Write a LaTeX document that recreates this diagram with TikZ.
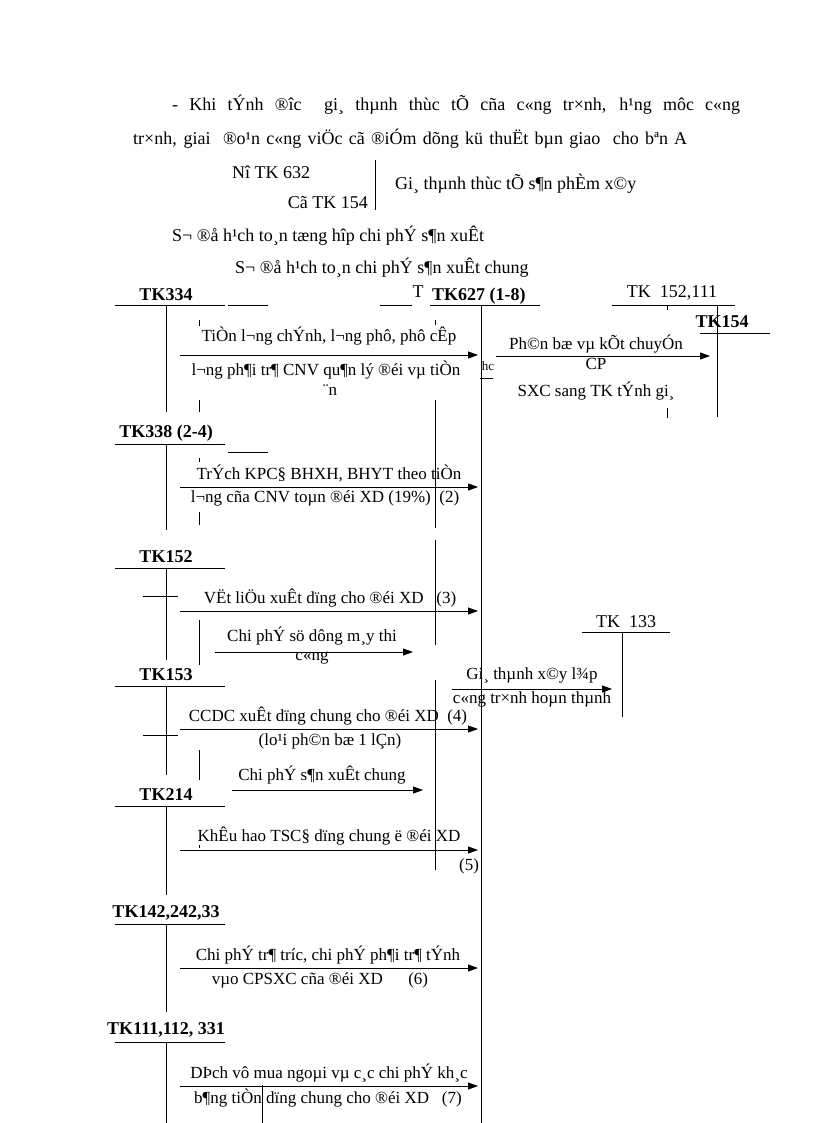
\documentclass[tikz,border=0pt]{standalone}
\usepackage{fontspec}
\setmainfont{Liberation Serif}
\usetikzlibrary{arrows.meta}
\begin{document}
\begin{tikzpicture}[x=1pt,y=-1pt,
  t/.style={inner sep=0pt,font=\fontsize{18}{20}\selectfont},
  tl/.style={inner sep=0pt,font=\fontsize{17}{19}\selectfont},
  tk/.style={inner sep=0pt,font=\fontsize{18}{20}\selectfont\bfseries},
  ln/.style={line width=0.8pt},
  ar/.style={line width=0.8pt,-{Triangle[length=10pt,width=7pt]}}]
\useasboundingbox (0,0) rectangle (816,1123);
% header text
\node[t,anchor=west] (h1) at (172,105) {\makebox[568pt][s]{- Khi tÝnh ®îc\ \ gi¸ thµnh thùc tÕ cña c«ng tr×nh, h¹ng môc c«ng}};
\node[t,anchor=west] (h2) at (133,139) {\makebox[554pt][s]{tr×nh, giai\ \ ®o¹n c«ng viÖc cã ®iÓm dõng kü thuËt bµn giao\ \ cho bªn A}};
\node[t,anchor=west] (no) at (232,172) {Nî TK 632};
\node[t,anchor=east] (co) at (368,203) {Cã TK 154};
\draw[ln] (375,160) -- (375,210);
\node[t,anchor=west] (gt) at (395,184) {Gi¸ thµnh thùc tÕ s¶n phÈm x©y};
\node[t,anchor=west] (s1) at (172,236) {S¬ ®å h¹ch to¸n tæng hîp chi phÝ s¶n xuÊt};
\node[t,anchor=west] (s2) at (235,268) {S¬ ®å h¹ch to¸n chi phÝ s¶n xuÊt chung};
% left T accounts
\foreach \n/\lab/\ly/\a/\b in {a/TK334/295/305/412, b/TK338 (2-4)/433/444/530, c/TK152/557/568/660, d/TK153/675/686/775, e/TK214/795/806/895, f/TK142{,}242{,}33/913/924/1012, g/TK111{,}112{,} 331/1030/1042/1123}{
  \node[tk] (L\n) at (166,\ly) {\lab};
  \draw[ln] (115,\a) -- (225,\a);
  \draw[ln] (166,\a) -- (166,\b);
}
\draw[ln] (228,305) -- (268,305);
\draw[ln] (228,452) -- (268,452);
\draw[ln] (380,305) -- (412,305);
\node[t] (tT) at (418,292) {T};
\draw[ln] (143,596) -- (178,596);
\draw[ln] (143,735) -- (178,735);
% TK627
\node[tk,anchor=west] (k627) at (432,296) {TK627 (1-8)};
\draw[ln] (430,305) -- (540,305);
\draw[ln] (481,305) -- (481,1123);
\coordinate (x1) at (478,355);
\coordinate (x2) at (478,487);
\coordinate (x3) at (478,611);
\coordinate (x4) at (478,729);
\coordinate (x5) at (478,850);
\coordinate (x6) at (478,968);
\coordinate (x7) at (478,1086);
% inner verticals
\draw[ln] (435,320) -- (435,325);
\draw[ln] (435,400) -- (435,528);
\draw[ln] (435,540) -- (435,645);
\draw[ln] (435,680) -- (435,870);
\draw[ln] (199,320) -- (199,326);
\draw[ln] (199,400) -- (199,412);
\draw[ln] (199,458) -- (199,462);
\draw[ln] (199,512) -- (199,525);
\draw[ln] (199,620) -- (199,665);
\draw[ln] (199,750) -- (199,780);
\draw[ln] (199,845) -- (199,848);
% arrows
\coordinate (a1) at (180,355); \draw[ar] (a1) -- (x1);
\node[tl] (t1a) at (329,336) {TiÒn l¬ng chÝnh, l¬ng phô, phô cÊp};
\node[tl] (t1b) at (326,370) {l¬ng ph¶i tr¶ CNV qu¶n lý ®éi vµ tiÒn};
\node[tl] (t1c) at (330,390) {¨n};
\coordinate (a2) at (180,487); \draw[ar] (a2) -- (x2);
\node[tl] (t2a) at (329,474) {TrÝch KPC§ BHXH, BHYT theo tiÒn};
\node[tl] (t2b) at (325,498) {l¬ng cña CNV toµn ®éi XD (19\%)\ \ (2)};
\coordinate (a3) at (180,611); \draw[ar] (a3) -- (x3);
\node[tl] (t3a) at (330,598) {VËt liÖu xuÊt dïng cho ®éi XD\ \ \ (3)};
\coordinate (m1) at (215,652); \coordinate (m2) at (413,652); \draw[ar] (m1) -- (m2);
\node[tl] (tm1) at (312,636) {Chi phÝ sö dông m¸y thi};
\node[tl] (tm2) at (312,658) {c«ng};
\coordinate (a4) at (180,729); \draw[ar] (a4) -- (x4);
\node[tl] (t4a) at (328,716) {CCDC xuÊt dïng chung cho ®éi XD\ \ (4)};
\node[tl] (t4b) at (330,741) {(lo¹i ph©n bæ 1 lÇn)};
\coordinate (c1) at (232,790); \coordinate (c2) at (423,790); \draw[ar] (c1) -- (c2);
\node[tl] (tc) at (322,775) {Chi phÝ s¶n xuÊt chung};
\coordinate (a5) at (180,850); \draw[ar] (a5) -- (x5);
\node[tl] (t5a) at (329,836) {KhÊu hao TSC§ dïng chung ë ®éi XD};
\node[tl] (t5b) at (469,866) {(5)};
\coordinate (a6) at (180,968); \draw[ar] (a6) -- (x6);
\node[tl] (t6a) at (328,955) {Chi phÝ tr¶ tr­íc, chi phÝ ph¶i tr¶ tÝnh};
\node[tl] (t6b) at (320,980) {vµo CPSXC cña ®éi XD\ \ \ \ \ \ (6)};
\coordinate (a7) at (180,1086); \draw[ar] (a7) -- (x7);
\node[tl] (t7a) at (329,1073) {DÞch vô mua ngoµi vµ c¸c chi phÝ kh¸c};
\node[tl] (t7b) at (328,1098) {b¶ng tiÒn\ dïng chung cho ®éi XD\ \ \ (7)};
\draw[ln] (262,1085) -- (262,1123);
% right side
\node[t] (k152) at (672,293) {TK\ \ 152,111};
\draw[ln] (612,305) -- (735,305);
\draw[ln] (667,305) -- (667,310);
\draw[ln] (667,408) -- (667,418);
\node[tk] (k154) at (722,322) {TK154};
\draw[ln] (700,333) -- (770,333);
\draw[ln] (717,305) -- (717,417);
\coordinate (p1) at (496,356); \coordinate (p2) at (710,356); \draw[ar] (p1) -- (p2);
\node[tl] (tp1) at (596,344) {Ph©n bæ vµ kÕt chuyÓn};
\node[tl] (tp2) at (596,364) {CP};
\node[tl] (tp3) at (596,391) {SXC sang TK tÝnh gi¸};
\node[t,font=\fontsize{13}{14}\selectfont] (hc) at (488,366) {hc};
\draw[ln] (480,378) -- (493,378);
\node[t] (k133) at (626,622) {TK\ \ 133};
\draw[ln] (582,632) -- (670,632);
\draw[ln] (622,632) -- (622,717);
\coordinate (q1) at (452,689); \coordinate (q2) at (612,689); \draw[ar] (q1) -- (q2);
\node[tl] (tq1) at (532,675) {Gi¸ thµnh x©y l¾p};
\node[tl] (tq2) at (532,699) {c«ng tr×nh hoµn thµnh};
\end{tikzpicture}
\end{document}
